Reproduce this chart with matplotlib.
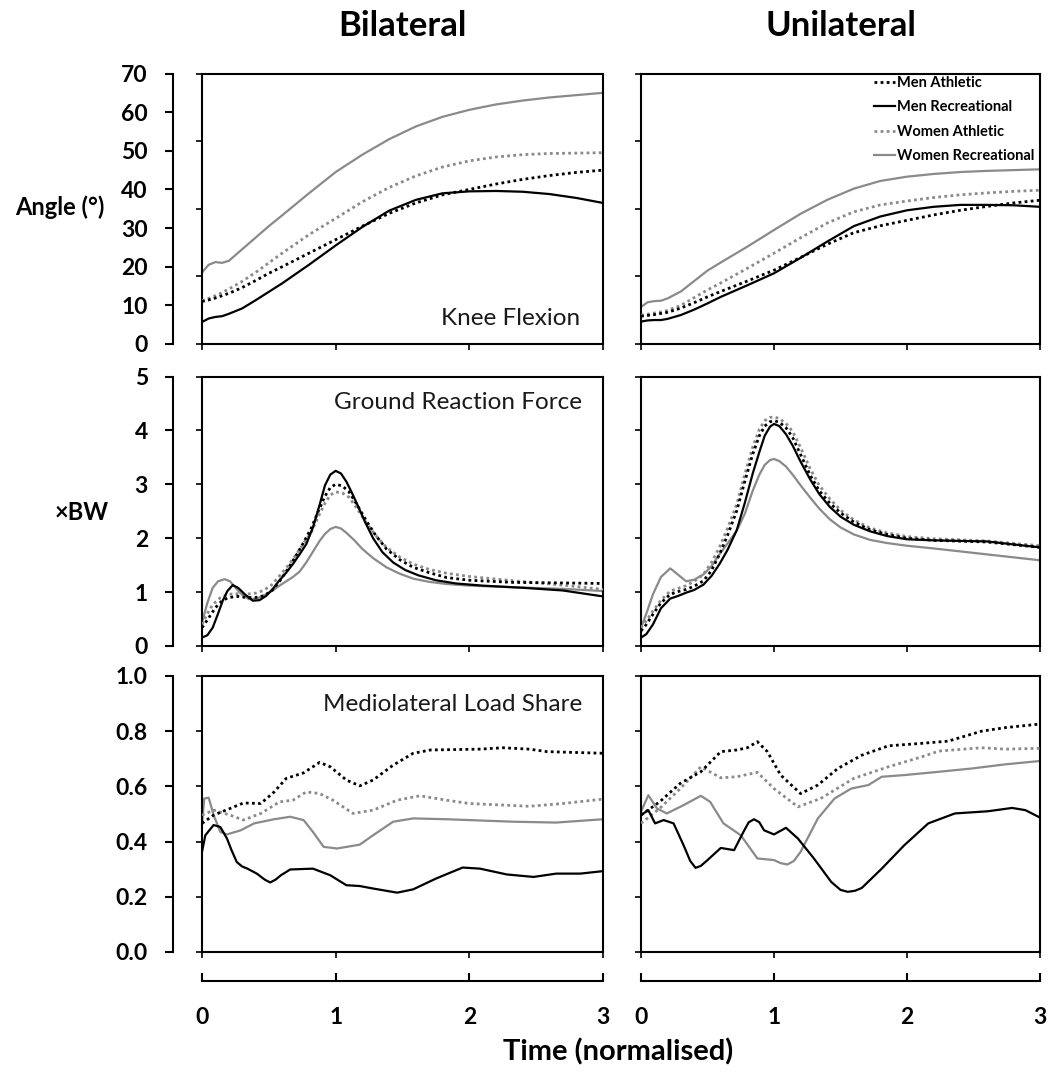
import matplotlib
matplotlib.use('Agg')
import matplotlib.pyplot as plt

plt.rcParams['font.family'] = ['Lato', 'DejaVu Sans']

# ---- data ----
groups = ['Men Athletic', 'Men Recreational', 'Women Athletic', 'Women Recreational']

# knee flexion angle (deg), shared time grid
t_knee = [0, 0.05, 0.1, 0.15, 0.2, 0.3, 0.4, 0.5, 0.6, 0.8, 1.0, 1.2, 1.4, 1.6,
          1.8, 2.0, 2.2, 2.4, 2.6, 2.8, 3.0]
knee_bi_ma = [11.0, 11.4, 11.9, 12.5, 13.1, 14.6, 16.4, 18.3, 20.0, 23.5, 27.0,
              30.5, 33.8, 36.5, 38.6, 40.0, 41.4, 42.6, 43.6, 44.4, 45.0]
knee_bi_mr = [5.7, 6.6, 7.0, 7.2, 7.8, 9.2, 11.3, 13.5, 15.7, 20.5, 25.5, 30.3,
              34.5, 37.3, 39.0, 39.5, 39.6, 39.4, 38.8, 37.8, 36.5]
knee_bi_wa = [11.2, 11.8, 12.5, 13.3, 14.2, 16.2, 18.5, 21.0, 23.5, 28.3, 32.5,
              36.8, 40.5, 43.5, 45.8, 47.4, 48.4, 49.0, 49.3, 49.4, 49.5]
knee_bi_wr = [18.5, 20.5, 21.2, 21.0, 21.5, 24.5, 27.5, 30.5, 33.3, 39.0, 44.5,
              49.0, 53.0, 56.3, 58.8, 60.6, 62.0, 63.0, 63.8, 64.4, 65.0]
knee_uni_ma = [7.2, 7.4, 7.6, 7.9, 8.2, 9.3, 10.7, 12.2, 13.6, 16.3, 19.1, 22.4,
               25.8, 28.8, 30.6, 32.0, 33.4, 34.6, 35.6, 36.5, 37.2]
knee_uni_mr = [5.8, 6.1, 6.2, 6.2, 6.5, 7.5, 8.9, 10.5, 12.2, 15.2, 18.3, 22.3,
               26.5, 30.5, 33.0, 34.6, 35.5, 36.0, 36.0, 35.9, 35.5]
knee_uni_wa = [7.5, 7.7, 8.0, 8.3, 8.7, 10.0, 12.0, 14.0, 15.8, 19.6, 23.5, 27.5,
               31.3, 34.2, 36.0, 37.0, 37.9, 38.6, 39.1, 39.5, 39.8]
knee_uni_wr = [9.6, 10.8, 11.1, 11.2, 11.8, 13.6, 16.3, 19.0, 21.1, 25.2, 29.5,
               33.7, 37.3, 40.2, 42.2, 43.3, 44.0, 44.5, 44.8, 45.0, 45.2]

# ground reaction force (xBW)
grf_bi_mr_t = [0, 0.04, 0.08, 0.12, 0.155, 0.19, 0.23, 0.27, 0.32, 0.38, 0.43, 0.48, 0.53, 0.58, 0.63,
               0.68, 0.73, 0.78, 0.83, 0.88, 0.92, 0.96, 1.0, 1.04, 1.08, 1.12, 1.17, 1.22, 1.28, 1.35,
               1.43, 1.52, 1.62, 1.75, 1.9, 2.1, 2.4, 2.7, 3.0]
grf_bi_mr = [0.155, 0.2, 0.34, 0.6, 0.84, 1.02, 1.13, 1.08, 0.96, 0.84, 0.85, 0.93, 1.06, 1.22, 1.36,
             1.52, 1.7, 1.89, 2.2, 2.62, 2.98, 3.18, 3.25, 3.2, 3.05, 2.85, 2.58, 2.3, 2.0, 1.74,
             1.55, 1.41, 1.31, 1.22, 1.16, 1.12, 1.08, 1.03, 0.92]
grf_bi_ma_t = [0, 0.05, 0.1, 0.15, 0.2, 0.27, 0.33, 0.4, 0.46, 0.52, 0.58, 0.64, 0.7, 0.76, 0.82, 0.87,
               0.92, 0.96, 1.0, 1.05, 1.1, 1.16, 1.23, 1.3, 1.38, 1.48, 1.58, 1.7, 1.83, 2.0, 2.33,
               2.7, 3.0]
grf_bi_ma = [0.34, 0.52, 0.71, 0.84, 0.9, 0.92, 0.9, 0.9, 0.93, 1.02, 1.2, 1.42, 1.66, 1.92, 2.2, 2.5,
             2.78, 2.94, 3.0, 2.97, 2.86, 2.62, 2.32, 2.05, 1.8, 1.6, 1.46, 1.36, 1.27, 1.22, 1.18,
             1.17, 1.16]
grf_bi_wa_t = [0, 0.04, 0.08, 0.14, 0.2, 0.27, 0.33, 0.4, 0.46, 0.52, 0.58, 0.64, 0.7, 0.76, 0.82, 0.87,
               0.92, 0.96, 1.0, 1.05, 1.1, 1.16, 1.23, 1.3, 1.38, 1.48, 1.58, 1.7, 1.83, 2.0, 2.33,
               2.7, 3.0]
grf_bi_wa = [0.4, 0.6, 0.77, 0.9, 0.96, 0.97, 0.96, 0.98, 1.03, 1.13, 1.3, 1.48, 1.68, 1.9, 2.12, 2.4,
             2.65, 2.8, 2.86, 2.84, 2.76, 2.55, 2.28, 2.05, 1.83, 1.65, 1.52, 1.42, 1.35, 1.29, 1.21,
             1.13, 1.05]
grf_bi_wr_t = [0, 0.04, 0.08, 0.12, 0.17, 0.21, 0.25, 0.3, 0.35, 0.41, 0.48, 0.53, 0.58, 0.63, 0.68,
               0.73, 0.78, 0.83, 0.88, 0.92, 0.96, 1.0, 1.04, 1.08, 1.14, 1.2, 1.28, 1.38, 1.48, 1.58,
               1.7, 1.83, 2.0, 2.33, 2.7, 3.0]
grf_bi_wr = [0.43, 0.8, 1.08, 1.2, 1.24, 1.2, 1.08, 0.95, 0.87, 0.88, 0.96, 1.03, 1.12, 1.2, 1.28,
             1.38, 1.55, 1.75, 1.95, 2.08, 2.17, 2.21, 2.18, 2.1, 1.96, 1.8, 1.63, 1.46, 1.34, 1.25,
             1.19, 1.15, 1.12, 1.09, 1.06, 1.02]

grf_uni_t = [0, 0.04, 0.09, 0.15, 0.22, 0.28, 0.34, 0.4, 0.47, 0.53, 0.59, 0.65, 0.72, 0.78, 0.84,
             0.89, 0.93, 0.97, 1.0, 1.04, 1.09, 1.14, 1.2, 1.27, 1.34, 1.42, 1.5, 1.6, 1.72, 1.85,
             2.0, 2.2, 2.6, 3.0]
grf_uni_ma = [0.28, 0.4, 0.59, 0.8, 0.96, 1.01, 1.05, 1.11, 1.21, 1.4, 1.7, 2.05, 2.51, 3.05, 3.56,
              3.9, 4.08, 4.16, 4.18, 4.15, 4.05, 3.87, 3.55, 3.18, 2.88, 2.65, 2.47, 2.3, 2.16, 2.07,
              2.0, 1.96, 1.93, 1.83]
grf_uni_mr = [0.155, 0.22, 0.4, 0.7, 0.88, 0.93, 0.99, 1.04, 1.14, 1.3, 1.52, 1.78, 2.15, 2.65, 3.2,
              3.6, 3.9, 4.07, 4.12, 4.08, 3.93, 3.72, 3.42, 3.1, 2.82, 2.58, 2.4, 2.25, 2.13, 2.04,
              1.98, 1.96, 1.94, 1.83]
grf_uni_wa = [0.34, 0.47, 0.65, 0.85, 1.02, 1.07, 1.12, 1.2, 1.33, 1.55, 1.83, 2.18, 2.63, 3.18, 3.69,
              4.02, 4.18, 4.24, 4.25, 4.22, 4.13, 3.98, 3.68, 3.3, 2.98, 2.73, 2.52, 2.34, 2.19, 2.1,
              2.03, 1.99, 1.95, 1.86]
grf_uni_wr = [0.34, 0.6, 0.96, 1.28, 1.44, 1.32, 1.2, 1.23, 1.33, 1.48, 1.7, 1.9, 2.14, 2.45, 2.88,
              3.18, 3.36, 3.45, 3.47, 3.43, 3.33, 3.18, 2.98, 2.76, 2.55, 2.35, 2.2, 2.07, 1.97, 1.91,
              1.86, 1.81, 1.7, 1.59]

# mediolateral load share
ml_bi_ma_t = [0, 0.087, 0.21, 0.31, 0.44, 0.54, 0.63, 0.76, 0.88, 0.96, 1.08, 1.18, 1.28, 1.43, 1.58, 1.71,
              2.08, 2.25, 2.45, 2.58, 3.0]
ml_bi_ma = [0.466, 0.496, 0.52, 0.54, 0.538, 0.58, 0.629, 0.649, 0.687, 0.671, 0.623, 0.602, 0.623, 0.677,
            0.72, 0.732, 0.735, 0.74, 0.735, 0.726, 0.72]
ml_bi_wa_t = [0, 0.087, 0.21, 0.31, 0.44, 0.58, 0.68, 0.78, 0.88, 0.98, 1.13, 1.28, 1.46, 1.63, 1.83, 2.0,
              2.45, 2.7, 3.0]
ml_bi_wa = [0.496, 0.514, 0.496, 0.478, 0.502, 0.544, 0.55, 0.58, 0.574, 0.55, 0.502, 0.514, 0.55, 0.566,
            0.55, 0.538, 0.528, 0.538, 0.554]
ml_bi_wr_t = [0, 0.017, 0.05, 0.087, 0.137, 0.187, 0.29, 0.39, 0.54, 0.66, 0.76, 0.83, 0.91, 1.01, 1.18,
              1.28, 1.43, 1.58, 1.83, 2.33, 2.65, 3.0]
ml_bi_wr = [0.466, 0.556, 0.559, 0.496, 0.435, 0.426, 0.441, 0.466, 0.481, 0.49, 0.478, 0.435, 0.381, 0.375,
            0.389, 0.423, 0.472, 0.484, 0.481, 0.472, 0.469, 0.481]
ml_bi_mr_t = [0, 0.025, 0.087, 0.137, 0.187, 0.22, 0.26, 0.3, 0.34, 0.41, 0.47, 0.51, 0.55, 0.59, 0.66,
              0.83, 0.96, 1.08, 1.18, 1.28, 1.46, 1.58, 1.75, 1.95, 2.08, 2.28, 2.48, 2.65, 2.83, 3.0]
ml_bi_mr = [0.363, 0.423, 0.46, 0.453, 0.411, 0.37, 0.326, 0.31, 0.302, 0.284, 0.262, 0.252, 0.262, 0.278,
            0.299, 0.302, 0.278, 0.242, 0.239, 0.23, 0.215, 0.227, 0.266, 0.306, 0.302, 0.281, 0.272,
            0.284, 0.284, 0.293]

ml_uni_ma_t = [0, 0.14, 0.295, 0.45, 0.6, 0.72, 0.8, 0.875, 0.95, 1.05, 1.2, 1.33, 1.48, 1.66, 1.86, 2.11,
               2.31, 2.56, 2.74, 3.0]
ml_uni_ma = [0.496, 0.544, 0.611, 0.653, 0.726, 0.732, 0.74, 0.762, 0.726, 0.641, 0.574, 0.605, 0.665, 0.713,
             0.747, 0.756, 0.764, 0.8, 0.813, 0.826]
ml_uni_wa_t = [0, 0.14, 0.295, 0.45, 0.6, 0.72, 0.875, 1.0, 1.18, 1.35, 1.6, 1.86, 2.11, 2.24, 2.56, 2.74, 3.0]
ml_uni_wa = [0.466, 0.52, 0.592, 0.671, 0.631, 0.635, 0.651, 0.592, 0.526, 0.556, 0.629, 0.671, 0.707, 0.728,
             0.74, 0.735, 0.738]
ml_uni_wr_t = [0, 0.055, 0.12, 0.194, 0.32, 0.45, 0.52, 0.62, 0.75, 0.875, 1.0, 1.05, 1.1, 1.15, 1.2, 1.33,
               1.455, 1.58, 1.71, 1.81, 1.98, 2.24, 2.49, 2.74, 3.0]
ml_uni_wr = [0.508, 0.568, 0.52, 0.502, 0.532, 0.566, 0.544, 0.466, 0.423, 0.339, 0.333, 0.322, 0.317, 0.33,
             0.363, 0.484, 0.556, 0.592, 0.605, 0.635, 0.641, 0.653, 0.665, 0.68, 0.692]
ml_uni_mr_t = [0, 0.055, 0.106, 0.17, 0.245, 0.32, 0.37, 0.41, 0.45, 0.5, 0.6, 0.7, 0.77, 0.81, 0.85, 0.89,
               0.925, 1.0, 1.09, 1.18, 1.3, 1.43, 1.5, 1.555, 1.61, 1.66, 1.81, 1.98, 2.16, 2.36, 2.61,
               2.79, 2.89, 3.0]
ml_uni_mr = [0.496, 0.514, 0.466, 0.478, 0.466, 0.387, 0.33, 0.305, 0.312, 0.333, 0.377, 0.369, 0.435, 0.47,
             0.481, 0.47, 0.441, 0.426, 0.45, 0.411, 0.339, 0.254, 0.225, 0.218, 0.222, 0.232, 0.302, 0.387,
             0.466, 0.502, 0.51, 0.522, 0.514, 0.487]

row_labels = ['Angle (°)', '×BW', '']
panel_names = ['Knee Flexion', 'Ground Reaction Force', 'Mediolateral Load Share']
col_titles = ['Bilateral', 'Unilateral']
x_ticks = [0, 1, 2, 3]

# ---- figure ----
W, H = 1053, 1076
fig = plt.figure(figsize=(W / 100, H / 100), dpi=100)


def box(x0, x1, y0, y1):
    return [x0 / W, 1 - y1 / H, (x1 - x0) / W, (y1 - y0) / H]


cols_px = [(202, 603), (641, 1040)]
rows_px = [(73.5, 344), (376.5, 646), (676, 952)]

styles = {
    'Men Athletic': dict(color='black', ls=(0, (1, 1.2)), lw=2.0, zorder=4),
    'Men Recreational': dict(color='black', ls='-', lw=1.6, zorder=5),
    'Women Athletic': dict(color='#8a8a8a', ls=(0, (1, 1.2)), lw=2.0, zorder=3),
    'Women Recreational': dict(color='#8a8a8a', ls='-', lw=1.6, zorder=2),
}

panels = [
    [
        [(t_knee, knee_bi_ma), (t_knee, knee_bi_mr), (t_knee, knee_bi_wa), (t_knee, knee_bi_wr)],
        [(t_knee, knee_uni_ma), (t_knee, knee_uni_mr), (t_knee, knee_uni_wa), (t_knee, knee_uni_wr)],
    ],
    [
        [(grf_bi_ma_t, grf_bi_ma), (grf_bi_mr_t, grf_bi_mr), (grf_bi_wa_t, grf_bi_wa), (grf_bi_wr_t, grf_bi_wr)],
        [(grf_uni_t, grf_uni_ma), (grf_uni_t, grf_uni_mr), (grf_uni_t, grf_uni_wa), (grf_uni_t, grf_uni_wr)],
    ],
    [
        [(ml_bi_ma_t, ml_bi_ma), (ml_bi_mr_t, ml_bi_mr), (ml_bi_wa_t, ml_bi_wa), (ml_bi_wr_t, ml_bi_wr)],
        [(ml_uni_ma_t, ml_uni_ma), (ml_uni_mr_t, ml_uni_mr), (ml_uni_wa_t, ml_uni_wa), (ml_uni_wr_t, ml_uni_wr)],
    ],
]

ylims = [(0, 70), (0, 5), (0, 1.0)]
inner_ticks = [[0, 17.5, 35, 52.5, 70], [0, 1, 2, 3, 4, 5], [0, 0.2, 0.4, 0.6, 0.8, 1.0]]
outer_ticks = [list(range(0, 71, 10)), [0, 1, 2, 3, 4, 5], [0, 0.2, 0.4, 0.6, 0.8, 1.0]]
outer_fmt = ['{:.0f}', '{:.0f}', '{:.1f}']
text_pos = [(0.943, 0.095), (0.948, 0.905), (0.948, 0.895)]

for r in range(3):
    y0, y1 = rows_px[r]
    for c in range(2):
        x0, x1 = cols_px[c]
        ax = fig.add_axes(box(x0, x1, y0, y1))
        for g, (tx, vals) in zip(groups, panels[r][c]):
            st = styles[g]
            ax.plot(tx, vals, color=st['color'], linestyle=st['ls'], linewidth=st['lw'],
                    zorder=st['zorder'], label=g)
        ax.set_xlim(0, 3)
        ax.set_ylim(*ylims[r])
        ax.set_xticks(x_ticks)
        ax.set_yticks(inner_ticks[r])
        ax.tick_params(axis='both', direction='out', length=4, width=1.2,
                       labelbottom=False, labelleft=False)
        for s in ax.spines.values():
            s.set_linewidth(1.5)
        if c == 0:
            px, py = text_pos[r]
            ax.text(px, py, panel_names[r], transform=ax.transAxes, ha='right', va='center',
                    fontsize=17.5, color='#1a1a1a')
        if r == 0 and c == 1:
            ax.legend(loc='upper right', bbox_to_anchor=(0.985, 0.992), frameon=False,
                      borderpad=0, borderaxespad=0,
                      handlelength=1.4, handletextpad=0.12, labelspacing=0.72,
                      prop={'weight': 'bold', 'size': 10.5})

    # outer y bracket for the left column
    bx = fig.add_axes(box(173, 174, y0, y1))
    bx.set_ylim(*ylims[r])
    bx.set_yticks(outer_ticks[r])
    bx.set_yticklabels([outer_fmt[r].format(v) for v in outer_ticks[r]])
    bx.set_xticks([])
    for k in ['top', 'right', 'bottom']:
        bx.spines[k].set_visible(False)
    bx.spines['left'].set_linewidth(1.5)
    bx.patch.set_visible(False)
    bx.tick_params(axis='y', direction='out', length=6, width=1.5, pad=12,
                   labelsize=16.5)
    for lab in bx.get_yticklabels():
        lab.set_fontweight('bold')

# separate time axes at the bottom
for c in range(2):
    x0, x1 = cols_px[c]
    tax = fig.add_axes(box(x0, x1, 980, 981))
    tax.set_xlim(0, 3)
    tax.set_xticks(x_ticks)
    tax.set_xticklabels([str(v) for v in x_ticks])
    tax.set_yticks([])
    for k in ['top', 'right', 'left']:
        tax.spines[k].set_visible(False)
    tax.spines['bottom'].set_linewidth(1.5)
    tax.patch.set_visible(False)
    tax.tick_params(axis='x', direction='in', length=6, width=1.5, pad=19, labelsize=16.5)
    for lab in tax.get_xticklabels():
        lab.set_fontweight('bold')

# titles and labels
for c, title in enumerate(col_titles):
    x0, x1 = cols_px[c]
    fig.text((x0 + x1) / 2 / W, 1 - 26 / H, title, ha='center', va='center',
             fontsize=25, fontweight='bold')

fig.text(60 / W, 1 - 207 / H, row_labels[0], ha='center', va='center', fontsize=17, fontweight='bold')
fig.text(82 / W, 1 - 512 / H, row_labels[1], ha='center', va='center', fontsize=17, fontweight='bold')
fig.text(618 / W, 1 - 1052 / H, 'Time (normalised)', ha='center', va='center',
         fontsize=21, fontweight='bold')

fig.savefig('out.png', dpi=100)
